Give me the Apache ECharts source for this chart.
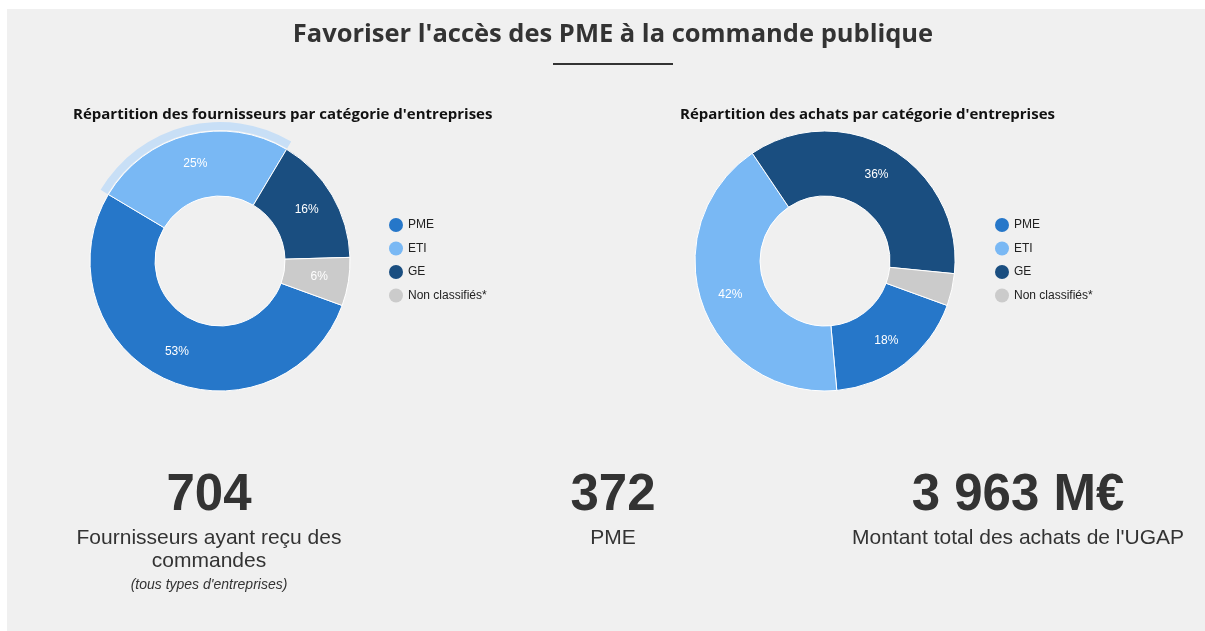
<!DOCTYPE html>
<html>
<head>
<meta charset="utf-8">
<script src="https://cdn.jsdelivr.net/npm/echarts@6/dist/echarts.min.js"></script>
<style>
  html, body { margin: 0; padding: 0; background: #fff; }
  #panel { position: absolute; left: 7px; top: 9px; width: 1198px; height: 622px; background: #f0f0f0; }
  #main { position: absolute; left: 0; top: 0; width: 1205px; height: 631px; }
</style>
</head>
<body>
<div id="panel"></div>
<div id="main"></div>
<script>
// categories and shares (%)
const categories = ["PME", "ETI", "GE", "Non classifiés*"];
const fournisseursPct = [53, 25, 16, 6];
const achatsPct = [18, 42, 36, 4];
const colors = ["#2677C9", "#79B8F4", "#1A4E80", "#CBCBCB"];

// key figures
const kpiValues = ["704", "372", "3 963 M€"];
const kpiLabels = ["Fournisseurs ayant reçu des\ncommandes", "PME", "Montant total des achats de l'UGAP"];
const kpiNote = "(tous types d'entreprises)";

const mainTitle = "Favoriser l'accès des PME à la commande publique";
const pieTitles = ["Répartition des fournisseurs par catégorie d'entreprises", "Répartition des achats par catégorie d'entreprises"];

function toData(values) {
  return categories.map((name, i) => ({ name: name, value: values[i], itemStyle: { color: colors[i] } }));
}

function pctLabel(p) {
  return p.percent >= 5 ? Math.round(p.percent) + "%" : "";
}

function donut(values, center) {
  return {
    type: "pie",
    center: center,
    radius: [65, 130],
    startAngle: -20,
    clockwise: true,
    avoidLabelOverlap: false,
    itemStyle: { borderColor: "#fff", borderWidth: 1 },
    label: {
      show: true,
      position: "inside",
      color: "#fff",
      fontSize: 12,
      fontFamily: "Liberation Sans, Arial",
      formatter: pctLabel
    },
    labelLine: { show: false },
    emphasis: { disabled: true },
    data: toData(values)
  };
}

// hover ring drawn around the ETI slice
let ringData = categories.map((name, i) => ({
  name: name,
  value: fournisseursPct[i],
  itemStyle: { color: name === "ETI" ? "#C8DFF6" : "rgba(0,0,0,0)" }
}));

const kpiX = [209, 613, 1018];
let graphics = [
  {
    type: "text", x: 613, y: 35,
    style: { text: mainTitle, textAlign: "center", textVerticalAlign: "middle", fill: "#333", font: "bold 25.5px 'Open Sans'" }
  },
  {
    type: "line", shape: { x1: 553, y1: 64, x2: 673, y2: 64 },
    style: { stroke: "#333", lineWidth: 2 }
  },
  {
    type: "text", x: 73, y: 115,
    style: { text: pieTitles[0], textAlign: "left", textVerticalAlign: "middle", fill: "#111", font: "bold 15px 'Open Sans'" }
  },
  {
    type: "text", x: 680, y: 115,
    style: { text: pieTitles[1], textAlign: "left", textVerticalAlign: "middle", fill: "#111", font: "bold 15px 'Open Sans'" }
  }
];
kpiValues.forEach((v, i) => {
  graphics.push({
    type: "text", x: kpiX[i], y: 496,
    style: { text: v, textAlign: "center", textVerticalAlign: "middle", fill: "#333", font: "bold 51px 'Liberation Sans', Arial" }
  });
  graphics.push({
    type: "text", x: kpiX[i], y: 527,
    style: { text: kpiLabels[i], textAlign: "center", textVerticalAlign: "top", fill: "#333", font: "21px 'Liberation Sans', Arial", lineHeight: 23 }
  });
});
graphics.push({
  type: "text", x: kpiX[0], y: 585,
  style: { text: kpiNote, textAlign: "center", textVerticalAlign: "middle", fill: "#333", font: "italic 14px 'Liberation Sans', Arial" }
});

const legendBase = {
  orient: "vertical",
  top: 213,
  icon: "circle",
  itemWidth: 14,
  itemHeight: 14,
  itemGap: 9.5,
  selectedMode: false,
  itemStyle: { borderWidth: 0 },
  data: categories,
  textStyle: { fontSize: 12, color: "#222", fontFamily: "Liberation Sans, Arial" }
};

const chart = echarts.init(document.getElementById("main"));
chart.setOption({
  animation: false,
  backgroundColor: "transparent",
  legend: [
    Object.assign({}, legendBase, { left: 384 }),
    Object.assign({}, legendBase, { left: 990 })
  ],
  graphic: graphics,
  series: [
    donut(fournisseursPct, [220, 261]),
    donut(achatsPct, [825, 261]),
    {
      type: "pie",
      center: [220, 261],
      radius: [131, 139],
      startAngle: -20,
      silent: true,
      legendHoverLink: false,
      label: { show: false },
      labelLine: { show: false },
      emphasis: { disabled: true },
      data: ringData
    }
  ]
});
</script>
</body>
</html>
